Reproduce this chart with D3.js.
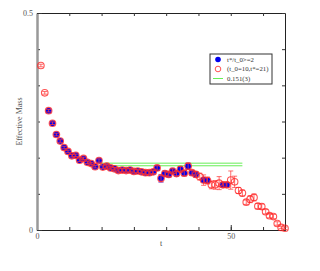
<!DOCTYPE html>
<html>
<head>
<meta charset="utf-8">
<script src="https://cdn.jsdelivr.net/npm/d3@7"></script>
<style>
  body { margin: 0; background: #fff; }
  text { font-family: "Liberation Serif", "DejaVu Serif", serif; }
</style>
</head>
<body>
<div id="app"></div>
<script>
const container = document.querySelector('#app');

// chart size and plot box
const width = 320;
const height = 271;
const marginTop = 13;
const marginRight = 35;
const marginBottom = 41;
const marginLeft = 37;

// red series (t_0=10, t*=21): time slices, values, errors
const redT = [1, 2, 3, 4, 5, 6, 7, 8, 9, 10, 11, 12, 13, 14, 15, 16, 17, 18, 19, 20,
  21, 22, 23, 24, 25, 26, 27, 28, 29, 30, 31, 32, 33, 34, 35, 36, 37, 38, 39, 40,
  41, 42, 43, 44, 45, 46, 47, 48, 49, 50, 51, 52, 53, 54, 55, 56, 57, 58, 59, 60,
  61, 62, 63, 64];
const redV = [0.379, 0.316, 0.275, 0.246, 0.220, 0.205, 0.190, 0.181, 0.171, 0.172,
  0.161, 0.165, 0.156, 0.153, 0.146, 0.160, 0.145, 0.147, 0.143, 0.141,
  0.137, 0.138, 0.137, 0.138, 0.135, 0.136, 0.134, 0.132, 0.132, 0.134,
  0.143, 0.119, 0.130, 0.128, 0.136, 0.130, 0.140, 0.131, 0.147, 0.132,
  0.128, 0.123, 0.115, 0.114, 0.104, 0.104, 0.108, 0.104, 0.104, 0.115,
  0.111, 0.091, 0.085, 0.064, 0.071, 0.075, 0.055, 0.054, 0.042, 0.033,
  0.031, 0.015, 0.006, 0.004];
const redE = [0.003, 0.003, 0.003, 0.003, 0.003, 0.003, 0.003, 0.003, 0.003, 0.003,
  0.003, 0.003, 0.003, 0.003, 0.003, 0.004, 0.003, 0.004, 0.003, 0.003,
  0.004, 0.004, 0.004, 0.004, 0.004, 0.004, 0.004, 0.004, 0.004, 0.004,
  0.005, 0.008, 0.005, 0.005, 0.005, 0.005, 0.006, 0.006, 0.007, 0.005,
  0.006, 0.008, 0.012, 0.008, 0.009, 0.010, 0.015, 0.006, 0.006, 0.021,
  0.013, 0.007, 0.007, 0.005, 0.008, 0.008, 0.006, 0.006, 0.005, 0.005,
  0.005, 0.004, 0.003, 0.003];

// blue series (t*/t_0>=2)
const blueT = [3, 4, 5, 6, 7, 8, 9, 10, 11, 12, 13, 14, 15, 16, 17, 18, 19, 20,
  21, 22, 23, 24, 25, 26, 27, 28, 29, 30, 31, 32, 33, 34, 35, 36, 37, 38, 39, 40,
  41, 43, 44, 48, 49];
const blueV = [0.275, 0.246, 0.220, 0.205, 0.190, 0.181, 0.171, 0.172,
  0.161, 0.165, 0.156, 0.153, 0.146, 0.160, 0.145, 0.147, 0.143, 0.141,
  0.137, 0.138, 0.137, 0.138, 0.135, 0.136, 0.134, 0.132, 0.132, 0.134,
  0.143, 0.119, 0.130, 0.128, 0.136, 0.130, 0.140, 0.131, 0.147, 0.132,
  0.128, 0.115, 0.114, 0.104, 0.104];
const blueE = [0.003, 0.003, 0.003, 0.003, 0.003, 0.003, 0.003, 0.003,
  0.003, 0.003, 0.003, 0.003, 0.003, 0.004, 0.003, 0.004, 0.004, 0.004,
  0.004, 0.004, 0.004, 0.005, 0.005, 0.005, 0.005, 0.005, 0.005, 0.005,
  0.006, 0.009, 0.006, 0.006, 0.006, 0.006, 0.006, 0.006, 0.007, 0.005,
  0.006, 0.005, 0.005, 0.005, 0.005];

// plateau fit 0.151(3) over the fit window
const fitRange = [16, 53];
const fitBand = [0.154, 0.148];

// ticks
const xMajor = [0, 50];
const xMinorStep = 50 / 6;
const yMajor = [0, 0.5];
const yMinorStep = 0.5 / 6;

const legendLabels = ["t*/t_0>=2", "(t_0=10,t*=21)", "0.151(3)"];

const x = d3.scaleLinear()
    .domain([0, 64])
    .range([marginLeft, width - marginRight]);

const y = d3.scaleLinear()
    .domain([0, 0.5])
    .range([height - marginBottom, marginTop]);

const svg = d3.create("svg")
    .attr("width", width)
    .attr("height", height);

const xMinor = d3.range(0, 64, xMinorStep);
const yMinor = d3.range(0, 0.5 + 1e-9, yMinorStep);

// frame sides: bottom, top, right dark; left grey
function styleAxis(g, color, w) {
  g.select(".domain").attr("stroke", color).attr("stroke-width", w);
  g.selectAll(".tick line").attr("stroke", "#333");
  g.selectAll(".tick text")
    .attr("fill", "#555")
    .style("font-family", "Liberation Serif, serif")
    .style("font-size", "8px");
}

// bottom
svg.append("g")
    .attr("transform", `translate(0,${y(0)})`)
    .call(d3.axisBottom(x).tickValues(xMinor).tickSize(-3).tickSizeOuter(0).tickFormat(""))
    .call(g => styleAxis(g, "#222", 1));
svg.append("g")
    .attr("transform", `translate(0,${y(0)})`)
    .call(d3.axisBottom(x).tickValues(xMajor).tickSize(-5).tickSizeOuter(0).tickPadding(3).tickFormat(d3.format("d")))
    .call(g => styleAxis(g, "#222", 1));

// top
svg.append("g")
    .attr("transform", `translate(0,${y(0.5)})`)
    .call(d3.axisTop(x).tickValues(xMinor).tickSize(-3).tickSizeOuter(0).tickFormat(""))
    .call(g => styleAxis(g, "#222", 1));

// right
svg.append("g")
    .attr("transform", `translate(${x(64)},0)`)
    .call(d3.axisRight(y).tickValues(yMinor).tickSize(-3).tickSizeOuter(0).tickFormat(""))
    .call(g => styleAxis(g, "#222", 1));

// left
svg.append("g")
    .attr("transform", `translate(${x(0)},0)`)
    .call(d3.axisLeft(y).tickValues(yMinor).tickSize(-3).tickSizeOuter(0).tickFormat(""))
    .call(g => styleAxis(g, "#999", 2));
svg.append("g")
    .attr("transform", `translate(${x(0)},0)`)
    .call(d3.axisLeft(y).tickValues(yMajor).tickSize(-5).tickSizeOuter(0).tickPadding(4).tickFormat(d => d === 0 ? "0" : "0.5"))
    .call(g => styleAxis(g, "#999", 2));

// axis titles
svg.append("text")
    .attr("x", (x(0) + x(64)) / 2)
    .attr("y", 246)
    .attr("text-anchor", "middle")
    .attr("fill", "#444")
    .style("font-size", "8px")
    .text("t");

svg.append("text")
    .attr("transform", `translate(22,${(y(0) + y(0.5)) / 2}) rotate(-90)`)
    .attr("text-anchor", "middle")
    .attr("fill", "#555")
    .style("font-size", "8px")
    .text("Effective Mass");

// fit band
fitBand.forEach(v => {
  svg.append("line")
    .attr("x1", x(fitRange[0]))
    .attr("x2", x(fitRange[1]))
    .attr("y1", y(v))
    .attr("y2", y(v))
    .attr("stroke", "#66ee55")
    .attr("stroke-width", 1);
});

const blue = blueT.map((t, i) => ({ t, v: blueV[i], e: blueE[i] }));
const red = redT.map((t, i) => ({ t, v: redV[i], e: redE[i] }));

function errorBars(data, color) {
  const g = svg.append("g").attr("stroke", color).attr("stroke-width", 1);
  data.forEach(d => {
    g.append("line").attr("x1", x(d.t)).attr("x2", x(d.t))
      .attr("y1", y(d.v - d.e)).attr("y2", y(d.v + d.e));
    [d.v - d.e, d.v + d.e].forEach(v => {
      g.append("line").attr("x1", x(d.t) - 2.5).attr("x2", x(d.t) + 2.5)
        .attr("y1", y(v)).attr("y2", y(v));
    });
  });
}

// blue series
errorBars(blue, "#7777ff");
svg.append("g").selectAll("circle")
  .data(blue)
  .join("circle")
    .attr("cx", d => x(d.t))
    .attr("cy", d => y(d.v))
    .attr("r", 3)
    .attr("fill", "#0000ee");

// red series
errorBars(red, "rgba(255,60,60,0.75)");
svg.append("g").selectAll("circle")
  .data(red)
  .join("circle")
    .attr("cx", d => x(d.t))
    .attr("cy", d => y(d.v))
    .attr("r", 3.3)
    .attr("fill", "none")
    .attr("stroke", "rgba(255,40,40,0.8)")
    .attr("stroke-width", 1.1);

// legend
const legend = svg.append("g").attr("transform", "translate(210,54)");
legend.append("rect")
    .attr("width", 62)
    .attr("height", 30)
    .attr("fill", "#fff")
    .attr("stroke", "#333")
    .attr("stroke-width", 1);
legend.append("circle").attr("cx", 8).attr("cy", 5.5).attr("r", 2.8).attr("fill", "#0000ee");
legend.append("circle").attr("cx", 8).attr("cy", 15).attr("r", 2.8)
    .attr("fill", "none").attr("stroke", "rgba(255,40,40,0.8)");
legend.append("line").attr("x1", 3).attr("x2", 13).attr("y1", 24.5).attr("y2", 24.5)
    .attr("stroke", "#66ee55");
legendLabels.forEach((s, i) => {
  legend.append("text")
    .attr("x", 17)
    .attr("y", 7.8 + i * 9.5)
    .attr("fill", "#333")
    .style("font-size", "6.8px")
    .text(s);
});

container.append(svg.node());
</script>
</body>
</html>
